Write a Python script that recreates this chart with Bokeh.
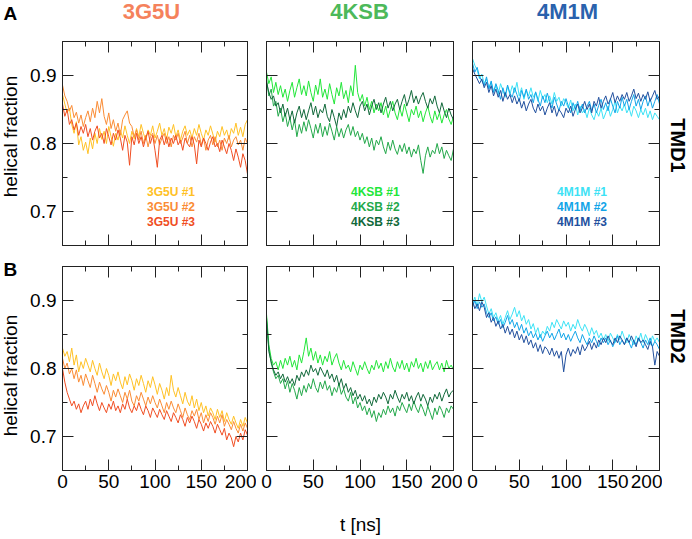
import math
from bokeh.plotting import figure
from bokeh.layouts import column, row
from bokeh.models import LinearAxis, FixedTicker, Label, Legend, LegendItem, Range1d
from bokeh.core.properties import value
from bokeh.embed import file_html
from bokeh.resources import INLINE

# ---------------- data ----------------
T_NS = [i * 2.5 for i in range(81)]          # sampling times, 0 .. 200 ns
PROTEINS = ["3G5U", "4KSB", "4M1M"]
SEGMENTS = ["TMD1", "TMD2"]
PANEL_TAGS = ["A", "B"]
X_TICKS = [0, 50, 100, 150, 200]
X_MINOR = [25, 75, 125, 175]
Y_TICKS = [0.7, 0.8, 0.9]
Y_MINOR = [0.75, 0.85]
Y_LABEL = "helical fraction"
X_LABEL = "t [ns]"

HF_3G5U_TMD1_R1 = [0.872, 0.858, 0.845, 0.852, 0.828, 0.815, 0.832, 0.798, 0.81, 0.79, 0.802,
                   0.785, 0.808, 0.792, 0.815, 0.80, 0.822, 0.806, 0.818, 0.80, 0.825, 0.81, 0.796, 0.815, 0.805,
                   0.82, 0.808, 0.826, 0.812, 0.80, 0.818, 0.807, 0.822, 0.81, 0.828, 0.815, 0.805, 0.82, 0.812, 0.826, 0.808,
                   0.818, 0.83, 0.812, 0.822, 0.806, 0.824, 0.815, 0.828, 0.81, 0.82, 0.805, 0.818, 0.826, 0.812, 0.82, 0.808,
                   0.822, 0.812, 0.828, 0.815, 0.805, 0.82, 0.812, 0.826, 0.814, 0.802, 0.818, 0.81, 0.825, 0.812, 0.82, 0.806,
                   0.822, 0.815, 0.83, 0.812, 0.824, 0.81, 0.828, 0.835]
HF_3G5U_TMD1_R2 = [0.886, 0.87, 0.862, 0.848, 0.856, 0.838, 0.846, 0.83, 0.842, 0.825, 0.838,
                   0.848, 0.832, 0.852, 0.838, 0.862, 0.845, 0.866, 0.84, 0.828, 0.845, 0.822, 0.835, 0.818, 0.83,
                   0.812, 0.835, 0.842, 0.848, 0.83, 0.825, 0.81, 0.82, 0.805, 0.818, 0.80, 0.812, 0.795, 0.81, 0.815, 0.80,
                   0.812, 0.798, 0.808, 0.815, 0.80, 0.81, 0.795, 0.812, 0.805, 0.815, 0.80, 0.808, 0.818, 0.80, 0.812, 0.795,
                   0.81, 0.802, 0.815, 0.798, 0.808, 0.79, 0.805, 0.812, 0.798, 0.81, 0.795, 0.805, 0.79, 0.808, 0.80, 0.812,
                   0.795, 0.805, 0.81, 0.798, 0.805, 0.79, 0.808, 0.80]
HF_3G5U_TMD1_R3 = [0.858, 0.84, 0.85, 0.828, 0.835, 0.82, 0.83, 0.812, 0.825, 0.815, 0.828,
                   0.81, 0.822, 0.805, 0.818, 0.826, 0.808, 0.815, 0.80, 0.822, 0.81, 0.798, 0.815, 0.805, 0.82,
                   0.808, 0.79, 0.812, 0.802, 0.768, 0.81, 0.798, 0.815, 0.80, 0.81, 0.795, 0.808, 0.818, 0.80, 0.812, 0.79,
                   0.765, 0.805, 0.812, 0.798, 0.81, 0.795, 0.808, 0.80, 0.812, 0.798, 0.805, 0.79, 0.808, 0.80, 0.795, 0.81,
                   0.798, 0.77, 0.805, 0.795, 0.808, 0.80, 0.79, 0.802, 0.81, 0.795, 0.80, 0.788, 0.805, 0.795, 0.785, 0.80,
                   0.79, 0.775, 0.792, 0.78, 0.765, 0.785, 0.775, 0.755]

HF_4KSB_TMD1_R1 = [0.905, 0.888, 0.898, 0.875, 0.89, 0.872, 0.885, 0.868, 0.88, 0.862, 0.878,
                   0.89, 0.868, 0.882, 0.895, 0.872, 0.885, 0.87, 0.892, 0.875, 0.862, 0.886, 0.872, 0.895, 0.868,
                   0.88, 0.865, 0.888, 0.872, 0.858, 0.882, 0.87, 0.89, 0.866, 0.878, 0.86, 0.885, 0.87, 0.915, 0.875, 0.862,
                   0.872, 0.855, 0.868, 0.85, 0.862, 0.845, 0.858, 0.848, 0.86, 0.842, 0.855, 0.838, 0.85, 0.862, 0.845, 0.835,
                   0.852, 0.84, 0.858, 0.845, 0.832, 0.85, 0.842, 0.855, 0.838, 0.848, 0.832, 0.845, 0.855, 0.84, 0.83, 0.848,
                   0.835, 0.845, 0.83, 0.842, 0.85, 0.836, 0.828, 0.84]
HF_4KSB_TMD1_R2 = [0.895, 0.87, 0.88, 0.855, 0.862, 0.84, 0.852, 0.832, 0.845, 0.825, 0.838,
                   0.82, 0.835, 0.81, 0.828, 0.815, 0.832, 0.818, 0.835, 0.822, 0.808, 0.828, 0.815, 0.83, 0.81,
                   0.825, 0.812, 0.83, 0.818, 0.805, 0.825, 0.81, 0.822, 0.808, 0.82, 0.828, 0.812, 0.825, 0.81, 0.818, 0.805,
                   0.815, 0.80, 0.81, 0.795, 0.808, 0.79, 0.805, 0.798, 0.81, 0.795, 0.785, 0.802, 0.79, 0.805, 0.792, 0.784,
                   0.798, 0.788, 0.80, 0.785, 0.795, 0.78, 0.792, 0.785, 0.798, 0.775, 0.756, 0.782, 0.795, 0.78, 0.79, 0.785,
                   0.80, 0.785, 0.795, 0.778, 0.79, 0.782, 0.775, 0.792]
HF_4KSB_TMD1_R3 = [0.89, 0.875, 0.865, 0.87, 0.855, 0.86, 0.845, 0.858, 0.84, 0.852, 0.835,
                   0.848, 0.83, 0.845, 0.855, 0.838, 0.85, 0.835, 0.848, 0.86, 0.842, 0.855, 0.838, 0.85, 0.845,
                   0.858, 0.84, 0.832, 0.85, 0.838, 0.825, 0.845, 0.835, 0.85, 0.838, 0.855, 0.845, 0.86, 0.848, 0.838, 0.855,
                   0.862, 0.848, 0.858, 0.842, 0.855, 0.865, 0.85, 0.86, 0.845, 0.858, 0.868, 0.852, 0.862, 0.848, 0.858, 0.865,
                   0.85, 0.862, 0.872, 0.855, 0.865, 0.878, 0.86, 0.87, 0.858, 0.868, 0.875, 0.862, 0.852, 0.866, 0.858, 0.87,
                   0.855, 0.845, 0.86, 0.848, 0.838, 0.852, 0.842, 0.835]

HF_4M1M_TMD1_R1 = [0.925, 0.915, 0.908, 0.895, 0.902, 0.888, 0.895, 0.882, 0.89, 0.876, 0.885,
                   0.872, 0.888, 0.878, 0.868, 0.884, 0.872, 0.885, 0.875, 0.89, 0.87, 0.882, 0.865, 0.878, 0.87,
                   0.882, 0.868, 0.875, 0.862, 0.878, 0.866, 0.872, 0.86, 0.87, 0.858, 0.875, 0.862, 0.868, 0.855, 0.866, 0.86,
                   0.852, 0.864, 0.848, 0.858, 0.842, 0.855, 0.845, 0.85, 0.838, 0.852, 0.842, 0.835, 0.848, 0.84, 0.852, 0.836,
                   0.845, 0.855, 0.84, 0.85, 0.862, 0.845, 0.855, 0.848, 0.858, 0.845, 0.852, 0.84, 0.855, 0.848, 0.838, 0.85,
                   0.842, 0.852, 0.838, 0.848, 0.835, 0.845, 0.84, 0.835]
HF_4M1M_TMD1_R2 = [0.918, 0.905, 0.912, 0.898, 0.892, 0.885, 0.898, 0.88, 0.892, 0.875, 0.888,
                   0.878, 0.865, 0.882, 0.87, 0.886, 0.874, 0.868, 0.882, 0.872, 0.862, 0.878, 0.868, 0.88, 0.865,
                   0.872, 0.86, 0.876, 0.865, 0.855, 0.87, 0.86, 0.874, 0.862, 0.852, 0.868, 0.858, 0.848, 0.862, 0.855, 0.866,
                   0.855, 0.845, 0.86, 0.85, 0.862, 0.848, 0.858, 0.845, 0.855, 0.862, 0.848, 0.858, 0.845, 0.856, 0.865, 0.85,
                   0.86, 0.848, 0.866, 0.855, 0.845, 0.862, 0.852, 0.868, 0.855, 0.865, 0.85, 0.862, 0.872, 0.855, 0.865, 0.85,
                   0.862, 0.87, 0.855, 0.866, 0.852, 0.862, 0.872, 0.858]
HF_4M1M_TMD1_R3 = [0.91, 0.902, 0.895, 0.888, 0.895, 0.882, 0.89, 0.875, 0.885, 0.87, 0.88,
                   0.868, 0.878, 0.862, 0.875, 0.865, 0.872, 0.86, 0.87, 0.858, 0.866, 0.852, 0.862, 0.848, 0.858,
                   0.865, 0.852, 0.845, 0.858, 0.848, 0.855, 0.842, 0.852, 0.86, 0.845, 0.855, 0.84, 0.85, 0.845, 0.838, 0.852,
                   0.845, 0.855, 0.84, 0.85, 0.858, 0.845, 0.852, 0.862, 0.85, 0.858, 0.845, 0.862, 0.855, 0.868, 0.852, 0.862,
                   0.87, 0.858, 0.865, 0.875, 0.86, 0.87, 0.862, 0.872, 0.865, 0.875, 0.862, 0.87, 0.88, 0.866, 0.874, 0.862,
                   0.872, 0.865, 0.876, 0.862, 0.87, 0.878, 0.865, 0.87]

HF_3G5U_TMD2_R1 = [0.83, 0.818, 0.825, 0.81, 0.83, 0.805, 0.82, 0.795, 0.81, 0.80, 0.815,
                   0.805, 0.795, 0.812, 0.80, 0.79, 0.808, 0.795, 0.785, 0.80, 0.79, 0.775, 0.792, 0.782, 0.795,
                   0.78, 0.77, 0.788, 0.776, 0.792, 0.782, 0.768, 0.785, 0.775, 0.79, 0.778, 0.765, 0.782, 0.772, 0.788, 0.776,
                   0.762, 0.778, 0.768, 0.755, 0.772, 0.76, 0.79, 0.768, 0.758, 0.772, 0.76, 0.748, 0.765, 0.752, 0.745, 0.76,
                   0.742, 0.755, 0.738, 0.75, 0.735, 0.745, 0.73, 0.742, 0.735, 0.725, 0.74, 0.728, 0.738, 0.722, 0.735, 0.725,
                   0.718, 0.73, 0.72, 0.712, 0.725, 0.715, 0.728, 0.72]
HF_3G5U_TMD2_R2 = [0.815, 0.80, 0.808, 0.792, 0.80, 0.785, 0.798, 0.78, 0.79, 0.775, 0.792,
                   0.782, 0.772, 0.79, 0.778, 0.765, 0.78, 0.77, 0.762, 0.775, 0.765, 0.752, 0.768, 0.758, 0.77,
                   0.76, 0.75, 0.765, 0.755, 0.768, 0.752, 0.745, 0.76, 0.752, 0.765, 0.755, 0.745, 0.758, 0.748, 0.76, 0.75,
                   0.742, 0.755, 0.745, 0.735, 0.75, 0.74, 0.752, 0.742, 0.735, 0.748, 0.738, 0.728, 0.742, 0.732, 0.725, 0.738,
                   0.73, 0.74, 0.725, 0.735, 0.72, 0.732, 0.722, 0.735, 0.728, 0.718, 0.73, 0.72, 0.732, 0.715, 0.725, 0.718,
                   0.71, 0.722, 0.712, 0.705, 0.718, 0.708, 0.72, 0.712]
HF_3G5U_TMD2_R3 = [0.80, 0.78, 0.765, 0.755, 0.745, 0.752, 0.74, 0.748, 0.735, 0.745, 0.752,
                   0.74, 0.755, 0.745, 0.76, 0.748, 0.738, 0.75, 0.742, 0.735, 0.748, 0.74, 0.752, 0.738, 0.745,
                   0.735, 0.748, 0.74, 0.755, 0.742, 0.735, 0.745, 0.738, 0.75, 0.74, 0.732, 0.745, 0.738, 0.728, 0.742, 0.735,
                   0.728, 0.74, 0.732, 0.725, 0.738, 0.73, 0.722, 0.735, 0.728, 0.72, 0.732, 0.725, 0.715, 0.728, 0.72, 0.73,
                   0.722, 0.712, 0.725, 0.718, 0.708, 0.72, 0.712, 0.722, 0.715, 0.705, 0.718, 0.71, 0.702, 0.712, 0.695, 0.705,
                   0.698, 0.685, 0.70, 0.692, 0.705, 0.695, 0.71, 0.702]

HF_4KSB_TMD2_R1 = [0.88, 0.835, 0.815, 0.805, 0.81, 0.798, 0.812, 0.80, 0.815, 0.805, 0.818,
                   0.802, 0.812, 0.798, 0.82, 0.808, 0.825, 0.845, 0.818, 0.83, 0.812, 0.825, 0.808, 0.82, 0.805,
                   0.818, 0.81, 0.825, 0.805, 0.815, 0.822, 0.808, 0.798, 0.812, 0.80, 0.805, 0.795, 0.81, 0.80, 0.79, 0.805,
                   0.798, 0.81, 0.80, 0.792, 0.805, 0.798, 0.812, 0.80, 0.808, 0.795, 0.81, 0.80, 0.815, 0.802, 0.795, 0.81,
                   0.80, 0.812, 0.798, 0.808, 0.795, 0.81, 0.802, 0.815, 0.80, 0.808, 0.795, 0.81, 0.80, 0.812, 0.798, 0.805,
                   0.81, 0.798, 0.808, 0.795, 0.812, 0.80, 0.805, 0.798]
HF_4KSB_TMD2_R2 = [0.87, 0.83, 0.808, 0.795, 0.785, 0.79, 0.778, 0.785, 0.77, 0.782, 0.765,
                   0.778, 0.768, 0.755, 0.772, 0.76, 0.775, 0.765, 0.778, 0.77, 0.785, 0.772, 0.765, 0.78, 0.77,
                   0.782, 0.768, 0.775, 0.76, 0.772, 0.765, 0.778, 0.762, 0.77, 0.758, 0.752, 0.765, 0.748, 0.758, 0.742, 0.75,
                   0.738, 0.745, 0.732, 0.742, 0.728, 0.738, 0.722, 0.735, 0.728, 0.74, 0.732, 0.745, 0.735, 0.742, 0.73, 0.745,
                   0.738, 0.75, 0.742, 0.735, 0.748, 0.738, 0.752, 0.742, 0.735, 0.748, 0.74, 0.73, 0.745, 0.735, 0.725, 0.742,
                   0.732, 0.745, 0.738, 0.728, 0.742, 0.735, 0.745, 0.74]
HF_4KSB_TMD2_R3 = [0.875, 0.825, 0.81, 0.798, 0.79, 0.795, 0.785, 0.792, 0.78, 0.788, 0.778,
                   0.785, 0.775, 0.79, 0.782, 0.795, 0.788, 0.798, 0.79, 0.805, 0.795, 0.80, 0.79, 0.802, 0.795,
                   0.788, 0.798, 0.785, 0.792, 0.78, 0.79, 0.775, 0.785, 0.77, 0.778, 0.765, 0.772, 0.76, 0.768, 0.755, 0.762,
                   0.752, 0.76, 0.748, 0.755, 0.745, 0.758, 0.75, 0.762, 0.755, 0.765, 0.758, 0.748, 0.762, 0.755, 0.768, 0.758,
                   0.75, 0.762, 0.755, 0.765, 0.752, 0.76, 0.748, 0.758, 0.765, 0.752, 0.762, 0.755, 0.745, 0.758, 0.75, 0.762,
                   0.755, 0.765, 0.752, 0.762, 0.77, 0.758, 0.765, 0.768]

HF_4M1M_TMD2_R1 = [0.895, 0.905, 0.892, 0.91, 0.898, 0.905, 0.892, 0.88, 0.888, 0.875, 0.882,
                   0.87, 0.878, 0.865, 0.875, 0.885, 0.872, 0.88, 0.89, 0.876, 0.885, 0.87, 0.878, 0.865, 0.872,
                   0.858, 0.866, 0.852, 0.86, 0.845, 0.855, 0.85, 0.862, 0.855, 0.868, 0.86, 0.872, 0.865, 0.858, 0.87, 0.862,
                   0.868, 0.855, 0.865, 0.858, 0.872, 0.862, 0.855, 0.865, 0.858, 0.848, 0.86, 0.85, 0.856, 0.845, 0.852, 0.842,
                   0.85, 0.84, 0.852, 0.845, 0.838, 0.85, 0.842, 0.855, 0.845, 0.838, 0.85, 0.842, 0.835, 0.848, 0.84, 0.852,
                   0.838, 0.85, 0.842, 0.835, 0.848, 0.84, 0.845, 0.838]
HF_4M1M_TMD2_R2 = [0.89, 0.90, 0.888, 0.898, 0.89, 0.895, 0.882, 0.875, 0.882, 0.87, 0.876,
                   0.865, 0.872, 0.86, 0.868, 0.878, 0.865, 0.872, 0.86, 0.868, 0.856, 0.865, 0.852, 0.86, 0.848,
                   0.855, 0.845, 0.852, 0.842, 0.85, 0.84, 0.848, 0.855, 0.845, 0.852, 0.842, 0.85, 0.858, 0.845, 0.852, 0.842,
                   0.85, 0.84, 0.848, 0.855, 0.845, 0.838, 0.85, 0.842, 0.835, 0.845, 0.838, 0.848, 0.84, 0.832, 0.845, 0.838,
                   0.845, 0.835, 0.842, 0.832, 0.84, 0.848, 0.835, 0.842, 0.835, 0.845, 0.838, 0.83, 0.842, 0.835, 0.845, 0.838,
                   0.83, 0.842, 0.835, 0.845, 0.832, 0.84, 0.835, 0.828]
HF_4M1M_TMD2_R3 = [0.90, 0.888, 0.895, 0.885, 0.898, 0.89, 0.875, 0.882, 0.868, 0.875, 0.862,
                   0.87, 0.858, 0.865, 0.852, 0.862, 0.85, 0.858, 0.845, 0.855, 0.842, 0.85, 0.838, 0.848, 0.835,
                   0.842, 0.83, 0.838, 0.825, 0.835, 0.822, 0.832, 0.828, 0.82, 0.83, 0.818, 0.826, 0.815, 0.825, 0.795, 0.82,
                   0.83, 0.818, 0.828, 0.822, 0.832, 0.82, 0.835, 0.826, 0.832, 0.84, 0.828, 0.838, 0.83, 0.842, 0.835, 0.845,
                   0.838, 0.848, 0.84, 0.835, 0.845, 0.838, 0.848, 0.842, 0.835, 0.845, 0.838, 0.848, 0.84, 0.832, 0.845, 0.838,
                   0.842, 0.835, 0.828, 0.84, 0.832, 0.805, 0.825, 0.818]

SERIES = {
    ("TMD1", "3G5U"): [HF_3G5U_TMD1_R1, HF_3G5U_TMD1_R2, HF_3G5U_TMD1_R3],
    ("TMD1", "4KSB"): [HF_4KSB_TMD1_R1, HF_4KSB_TMD1_R2, HF_4KSB_TMD1_R3],
    ("TMD1", "4M1M"): [HF_4M1M_TMD1_R1, HF_4M1M_TMD1_R2, HF_4M1M_TMD1_R3],
    ("TMD2", "3G5U"): [HF_3G5U_TMD2_R1, HF_3G5U_TMD2_R2, HF_3G5U_TMD2_R3],
    ("TMD2", "4KSB"): [HF_4KSB_TMD2_R1, HF_4KSB_TMD2_R2, HF_4KSB_TMD2_R3],
    ("TMD2", "4M1M"): [HF_4M1M_TMD2_R1, HF_4M1M_TMD2_R2, HF_4M1M_TMD2_R3],
}

# ---------------- styling ----------------
TITLE_COLORS = {"3G5U": "#F5825C", "4KSB": "#4DB95A", "4M1M": "#2A62AD"}
RUN_COLORS = {
    "3G5U": ["#FFC125", "#FA8C35", "#F04E23"],
    "4KSB": ["#22E639", "#23A84A", "#11693A"],
    "4M1M": ["#3DE2F5", "#12A5E8", "#22509E"],
}
FONT = "Liberation Sans"
AX_COLOR = "#222222"
TICK_FONT_SIZE = "19px"

# layout (pixels)
LEFT_STRIP_W = 27
RIGHT_STRIP_W = 29
TOP_STRIP_H = 35
BOTTOM_STRIP_H = 41
TAG_B_H = 28
PANEL_W = [229, 206, 200]
PANEL_LEFT = [34, 10, 10]
PANEL_RIGHT = [9, 9, 3]
ROW_H = [220, 242]
ROW_TOP = [6, 11]
ROW_BOTTOM = [10, 27]
TOTAL_W = LEFT_STRIP_W + sum(PANEL_W) + RIGHT_STRIP_W


def text_strip(width, height):
    s = figure(width=width, height=height, x_range=Range1d(0, 1), y_range=Range1d(0, 1),
               x_axis_type=None, y_axis_type=None, output_backend="svg",
               toolbar_location=None, min_border=0, outline_line_color=None)
    s.grid.visible = False
    s.background_fill_color = "white"
    s.border_fill_color = "white"
    return s


def screen_label(p, x, y, text, **kw):
    kw.setdefault("text_font", FONT)
    kw.setdefault("text_color", "black")
    kw.setdefault("text_baseline", "middle")
    kw.setdefault("text_align", "center")
    p.add_layout(Label(x=x, y=y, x_units="screen", y_units="screen", text=text, **kw))


def style_axis(ax, ticks, minor, show_labels, standoff):
    ax.ticker = FixedTicker(ticks=ticks, minor_ticks=minor)
    ax.axis_line_color = AX_COLOR
    ax.major_tick_line_color = AX_COLOR
    ax.minor_tick_line_color = AX_COLOR
    ax.major_tick_in = 11
    ax.major_tick_out = 0
    ax.minor_tick_in = 5
    ax.minor_tick_out = 0
    ax.major_label_text_font = FONT
    if show_labels:
        ax.major_label_standoff = standoff
        ax.major_label_text_color = "black"
        ax.major_label_text_font_size = TICK_FONT_SIZE
    else:
        ax.major_label_standoff = 0
        ax.major_label_text_color = None
        ax.major_label_text_font_size = "1px"


def make_panel(ri, ci):
    seg = SEGMENTS[ri]
    prot = PROTEINS[ci]
    p = figure(width=PANEL_W[ci], height=ROW_H[ri],
               x_range=Range1d(0, 200), y_range=Range1d(0.65, 0.95),
               output_backend="svg", toolbar_location=None,
               min_border_left=PANEL_LEFT[ci], min_border_right=PANEL_RIGHT[ci],
               min_border_top=ROW_TOP[ri], min_border_bottom=ROW_BOTTOM[ri])
    p.grid.visible = False
    p.outline_line_color = AX_COLOR
    p.background_fill_color = "white"
    p.border_fill_color = "white"
    top_ax = LinearAxis()
    right_ax = LinearAxis()
    p.add_layout(top_ax, "above")
    p.add_layout(right_ax, "right")
    style_axis(p.below[0], X_TICKS, X_MINOR, ri == 1, 4)
    style_axis(top_ax, X_TICKS, X_MINOR, False, 0)
    style_axis(p.left[0], Y_TICKS, Y_MINOR, ci == 0, 6)
    style_axis(right_ax, Y_TICKS, Y_MINOR, False, 0)

    runs = SERIES[(seg, prot)]
    colors = RUN_COLORS[prot]
    for k, ys in enumerate(runs):
        p.line(T_NS, ys, line_color=colors[k], line_width=1)

    if ri == 0:
        # legend: one box per run, so each label gets the run's colour
        bottoms = [46, 31, 16]
        for k in range(3):
            r = p.line([], [], line_color=colors[k], line_width=4.5)
            leg = Legend(items=[LegendItem(label=value(f"{prot} #{k + 1}"), renderers=[r])],
                         location=(58, bottoms[k]), orientation="vertical",
                         glyph_width=20, glyph_height=14, label_height=14,
                         label_standoff=7, padding=0, margin=0, spacing=0,
                         background_fill_alpha=0, border_line_alpha=0,
                         label_text_font=FONT, label_text_font_style="bold",
                         label_text_font_size="12px", label_text_color=colors[k])
            p.add_layout(leg)
    return p


# top strip: panel tag A and the three protein titles
top = text_strip(TOTAL_W, TOP_STRIP_H)
screen_label(top, 3, 22, PANEL_TAGS[0], text_align="left",
             text_font_style="bold", text_font_size="19px")
for prot, cx in zip(PROTEINS, [151, 359, 567]):
    screen_label(top, cx, 24, prot, text_font_style="bold", text_font_size="22px",
                 text_color=TITLE_COLORS[prot])

rows = []
for ri in range(2):
    if ri == 0:
        left = text_strip(LEFT_STRIP_W, ROW_H[ri])
        screen_label(left, 10, 109, Y_LABEL, angle=math.pi / 2, text_font_size="19px")
    else:
        tag = text_strip(LEFT_STRIP_W, TAG_B_H)
        screen_label(tag, 3, 14, PANEL_TAGS[1], text_align="left",
                     text_font_style="bold", text_font_size="19px")
        ylab = text_strip(LEFT_STRIP_W, ROW_H[ri] - TAG_B_H)
        screen_label(ylab, 10, 122, Y_LABEL, angle=math.pi / 2, text_font_size="19px")
        left = column([tag, ylab], spacing=0)
    right = text_strip(RIGHT_STRIP_W, ROW_H[ri])
    screen_label(right, 15, [100, 134][ri], SEGMENTS[ri], angle=-math.pi / 2,
                 text_font_style="bold", text_font_size="20px")
    rows.append(row([left] + [make_panel(ri, ci) for ci in range(3)] + [right], spacing=0))

bottom = text_strip(TOTAL_W, BOTTOM_STRIP_H)
screen_label(bottom, 360, 14, X_LABEL, text_font_size="19px")

layout = column([top] + rows + [bottom], spacing=0)

with open("out.html", "w") as f:
    f.write(file_html(layout, INLINE))
